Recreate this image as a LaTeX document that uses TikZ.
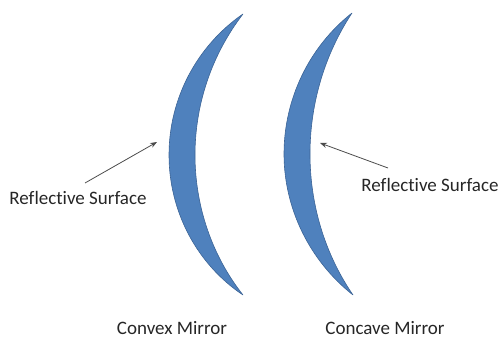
\documentclass[tikz,border=0pt]{standalone}
\usepackage{fontspec}
\setmainfont{Carlito}[Ligatures=NoCommon]
\usepackage{tikz}
\usetikzlibrary{arrows.meta, positioning}

\definecolor{mirrorblue}{RGB}{79,129,189}
\definecolor{mirroredge}{RGB}{60,100,150}

\begin{document}
\begin{tikzpicture}[
    x=1pt, y=-1pt,
    mirror/.style={fill=mirrorblue, draw=mirroredge, line width=0.6pt, line join=round},
    label/.style={inner sep=0pt, font=\fontsize{19}{22}\selectfont, text=black!85},
    pointer/.style={-{Stealth[length=2.4mm, width=1.8mm]}, draw=black!70, line width=0.8pt},
]
\useasboundingbox (0,0) rectangle (504,342);

% convex mirror
\draw[mirror] (243,14) .. controls (196.7,46) and (169,98.7) .. (169,155)
    .. controls (169,211.3) and (196.7,264) .. (243,295)
    .. controls (211.9,255.6) and (195,206) .. (195,155)
    .. controls (195,104) and (211.9,54.4) .. (243,14) -- cycle;

% concave mirror
\draw[mirror] (352,13) .. controls (308.9,47) and (284,99.2) .. (284,154)
    .. controls (284,208.8) and (309.9,261) .. (353,295)
    .. controls (324.4,253.2) and (310,204) .. (310,154)
    .. controls (310,104) and (324.4,54.8) .. (352,13) -- cycle;

\node[label] (lref) at (78,198) {Reflective Surface};
\node[label] (rref) at (430,185) {Reflective Surface};
\node[label] (convex) at (172,328) {Convex Mirror};
\node[label] (concave) at (385,328) {Concave Mirror};

\coordinate (ltail) at (85,183);
\coordinate (lhit) at (157,142);
\coordinate (rtail) at (388,168);
\coordinate (rhit) at (320,143);

\draw[pointer] (ltail) -- (lhit);
\draw[pointer] (rtail) -- (rhit);
\end{tikzpicture}
\end{document}
